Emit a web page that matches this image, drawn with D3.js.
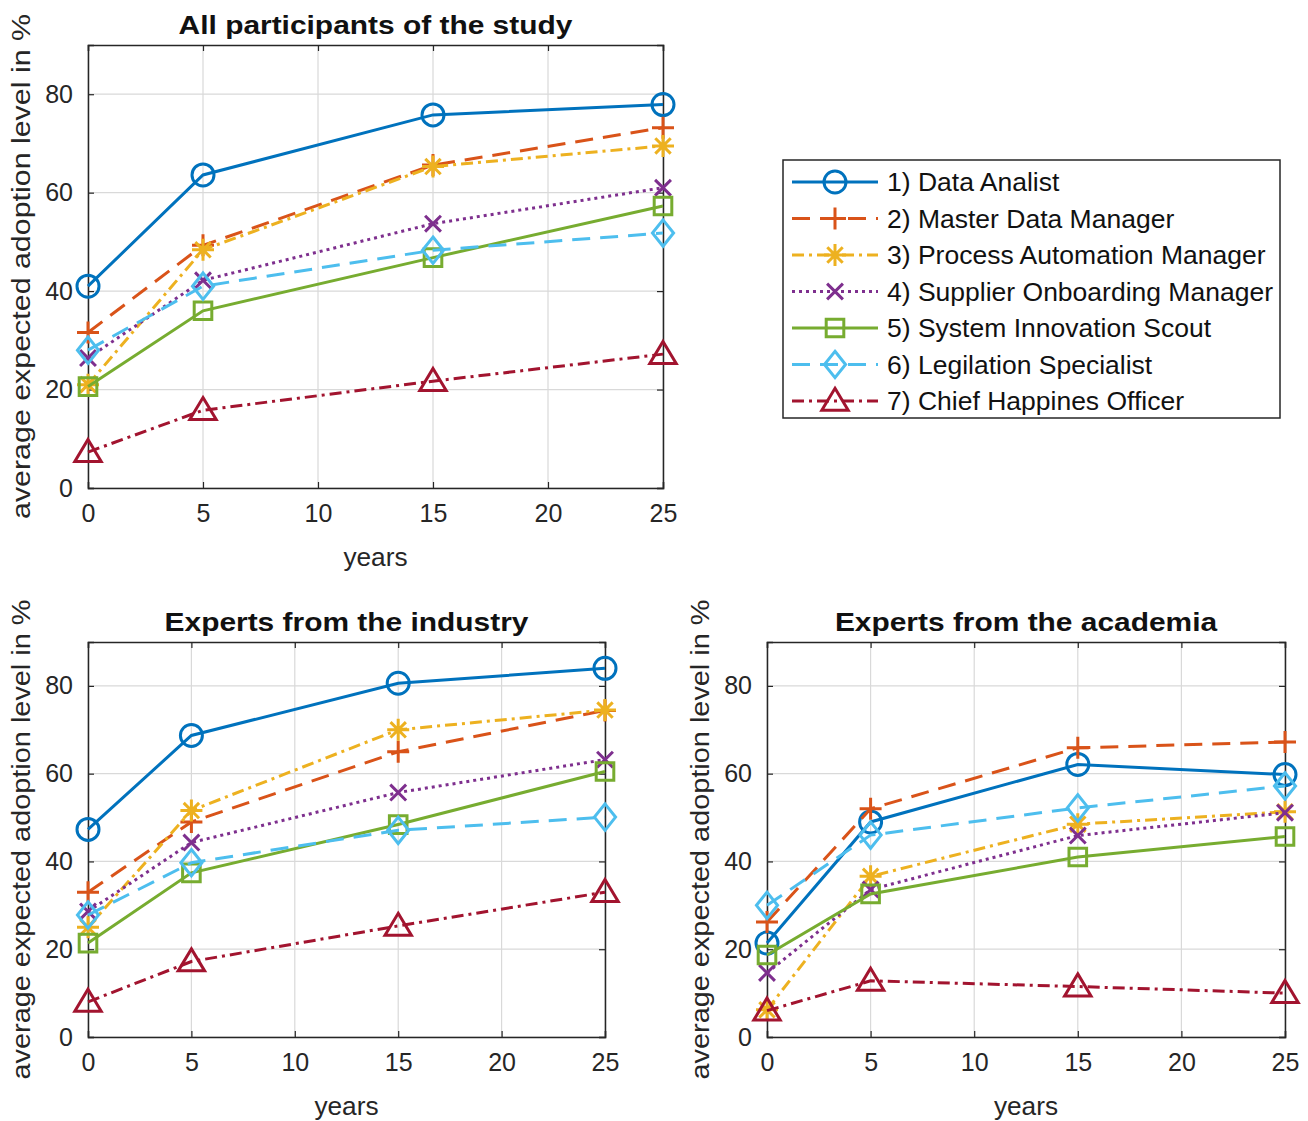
<!DOCTYPE html>
<html>
<head>
<meta charset="utf-8">
<script src="https://cdn.jsdelivr.net/npm/d3@7"></script>
<style>
  body { margin: 0; background: #fff; }
  text { font-family: "Liberation Sans", Arial, sans-serif; }
</style>
</head>
<body>
<script>
var W = 1308, H = 1121;

var years = [0, 5, 15, 25];
var xTicks = [0, 5, 10, 15, 20, 25];
var yTicks = [0, 20, 40, 60, 80];

var roles = [
  "1) Data Analist",
  "2) Master Data Manager",
  "3) Process Automation Manager",
  "4) Supplier Onboarding Manager",
  "5) System Innovation Scout",
  "6) Legilation Specialist",
  "7) Chief Happines Officer"
];

// values per role, at years 0, 5, 15, 25
var allParticipants = [
  [41, 63.6, 75.8, 77.9],
  [31.6, 49.3, 65.6, 73.2],
  [21, 48.4, 65.3, 69.5],
  [26.4, 42.2, 53.7, 61],
  [20.6, 36, 46.8, 57.3],
  [28, 41, 48.3, 51.8],
  [7.3, 15.8, 21.7, 27.2]
];
var industry = [
  [47.3, 68.7, 80.6, 84],
  [33, 49, 65, 74.4],
  [25, 51.6, 70, 74.5],
  [28.6, 44.3, 55.7, 63.2],
  [21.4, 37.4, 48.4, 60.5],
  [27.8, 39.7, 47.1, 50.1],
  [8, 17.2, 25.3, 33]
];
var academia = [
  [21.4, 49, 62.1, 59.8],
  [26.2, 52, 65.9, 67.2],
  [6.2, 36.6, 48.5, 51.3],
  [14.6, 33.6, 45.9, 51.1],
  [18.7, 32.6, 41, 45.7],
  [30, 46, 52.2, 57.2],
  [6, 12.8, 11.5, 10]
];

var colors = ["#0072BD", "#D95319", "#EDB120", "#7E2F8E", "#77AC30", "#4DBEEE", "#A2142F"];
var dashes = [null, "18,10", "12,5,3,5", "3,4", null, "18,10", "12,5,3,5"];
var markers = ["circle", "plus", "star", "cross", "square", "diamond", "triangle"];

var svg = d3.select("body").append("svg")
  .attr("width", W)
  .attr("height", H);

// stretch text a bit wider, like the original raster
function widen(sel, f) {
  sel.each(function(){
    var len = this.getComputedTextLength();
    d3.select(this).attr("textLength", len * f).attr("lengthAdjust", "spacingAndGlyphs");
  });
}

function drawMarker(g, type, color, x, y) {
  var s = 11;
  var m = g.append("path")
    .attr("transform", "translate(" + x + "," + y + ")")
    .attr("fill", "none")
    .attr("stroke", color)
    .attr("stroke-width", 3);
  var p;
  if (type == "circle") {
    p = d3.path(); p.moveTo(s, 0); p.arc(0, 0, s, 0, 2 * Math.PI);
  } else if (type == "plus") {
    p = "M" + (-s) + ",0H" + s + "M0," + (-s) + "V" + s;
  } else if (type == "cross") {
    var c = s * 0.72;
    p = "M" + (-c) + "," + (-c) + "L" + c + "," + c + "M" + (-c) + "," + c + "L" + c + "," + (-c);
  } else if (type == "star") {
    var c2 = s * 0.7;
    p = "M" + (-s) + ",0H" + s + "M0," + (-s) + "V" + s +
        "M" + (-c2) + "," + (-c2) + "L" + c2 + "," + c2 + "M" + (-c2) + "," + c2 + "L" + c2 + "," + (-c2);
  } else if (type == "square") {
    var q = s * 0.8;
    p = "M" + (-q) + "," + (-q) + "H" + q + "V" + q + "H" + (-q) + "Z";
  } else if (type == "diamond") {
    var dd = s * 1.2;
    p = "M0," + (-dd) + "L" + (dd * 0.8) + ",0L0," + dd + "L" + (-dd * 0.8) + ",0Z";
  } else if (type == "triangle") {
    p = "M0," + (-s * 1.15) + "L" + (s * 1.2) + "," + (s * 0.85) + "L" + (-s * 1.2) + "," + (s * 0.85) + "Z";
  }
  m.attr("d", p.toString());
}

function panel(box, title, data, ylabLen) {
  var x = d3.scaleLinear().domain([0, 25]).range([box.l, box.r]);
  var y = d3.scaleLinear().domain([0, 90]).range([box.b, box.t]);
  var g = svg.append("g");

  // grid
  g.selectAll(".gx").data(xTicks).enter().append("line")
    .attr("x1", function(d){ return x(d); }).attr("x2", function(d){ return x(d); })
    .attr("y1", box.t).attr("y2", box.b)
    .attr("stroke", "#d9d9d9").attr("stroke-width", 1.2);
  g.selectAll(".gy").data(yTicks).enter().append("line")
    .attr("x1", box.l).attr("x2", box.r)
    .attr("y1", function(d){ return y(d); }).attr("y2", function(d){ return y(d); })
    .attr("stroke", "#d9d9d9").attr("stroke-width", 1.2);

  // axes
  var ax = g.append("g").attr("transform", "translate(0," + box.b + ")")
    .call(d3.axisBottom(x).tickValues(xTicks).tickSize(-6).tickPadding(16));
  var ay = g.append("g").attr("transform", "translate(" + box.l + ",0)")
    .call(d3.axisLeft(y).tickValues(yTicks).tickSize(-6).tickPadding(15));
  var axt = g.append("g").attr("transform", "translate(0," + box.t + ")")
    .call(d3.axisTop(x).tickValues(xTicks).tickSize(-6).tickFormat(""));
  var ayr = g.append("g").attr("transform", "translate(" + box.r + ",0)")
    .call(d3.axisRight(y).tickValues(yTicks).tickSize(-6).tickFormat(""));
  [ax, ay, axt, ayr].forEach(function(a){
    a.selectAll("path").attr("stroke", "#262626").attr("stroke-width", 1.5);
    a.selectAll("line").attr("stroke", "#262626").attr("stroke-width", 1.2);
    a.selectAll("text").attr("font-size", "25px").attr("fill", "#262626")
      .attr("font-family", "'Liberation Sans', Arial, sans-serif");
  });

  // lines and markers
  var line = d3.line()
    .x(function(d, i){ return x(years[i]); })
    .y(function(d){ return y(d); });
  data.forEach(function(vals, k){
    g.append("path")
      .attr("d", line(vals))
      .attr("fill", "none")
      .attr("stroke", colors[k])
      .attr("stroke-width", 3)
      .attr("stroke-dasharray", dashes[k]);
    vals.forEach(function(v, i){
      drawMarker(g, markers[k], colors[k], x(years[i]), y(v));
    });
  });

  // labels
  g.append("text")
    .attr("x", (box.l + box.r) / 2).attr("y", box.t - 11)
    .attr("text-anchor", "middle")
    .attr("font-size", "26px").attr("font-weight", "bold")
    .attr("fill", "#111")
    .text(title)
    .call(widen, 1.15);
  g.append("text")
    .attr("x", (box.l + box.r) / 2).attr("y", box.b + 78)
    .attr("text-anchor", "middle")
    .attr("font-size", "25px").attr("fill", "#262626")
    .text("years")
    .call(widen, 1.05);
  g.append("text")
    .attr("transform", "translate(" + (box.l - 58) + "," + ((box.t + box.b) / 2) + ") rotate(-90)")
    .attr("text-anchor", "middle")
    .attr("font-size", "25px").attr("fill", "#262626")
    .attr("textLength", ylabLen).attr("lengthAdjust", "spacingAndGlyphs")
    .text("average expected adoption level in %");
}

panel({l: 88, r: 663, t: 45, b: 488}, "All participants of the study", allParticipants, 505);
panel({l: 88, r: 605, t: 642, b: 1037}, "Experts from the industry", industry, 480);
panel({l: 767, r: 1285, t: 642, b: 1037}, "Experts from the academia", academia, 480);

// legend
var lg = svg.append("g");
lg.append("rect")
  .attr("x", 783).attr("y", 160).attr("width", 497).attr("height", 258)
  .attr("fill", "#fff").attr("stroke", "#262626").attr("stroke-width", 1.5);
roles.forEach(function(r, k){
  var yy = 182 + k * 36.5;
  lg.append("line")
    .attr("x1", 792).attr("x2", 878).attr("y1", yy).attr("y2", yy)
    .attr("stroke", colors[k]).attr("stroke-width", 3)
    .attr("stroke-dasharray", dashes[k]);
  drawMarker(lg, markers[k], colors[k], 835, yy);
  lg.append("text")
    .attr("x", 887).attr("y", yy + 9)
    .attr("font-size", "25px").attr("fill", "#111")
    .text(r)
    .call(widen, 1.06);
});
</script>
</body>
</html>
